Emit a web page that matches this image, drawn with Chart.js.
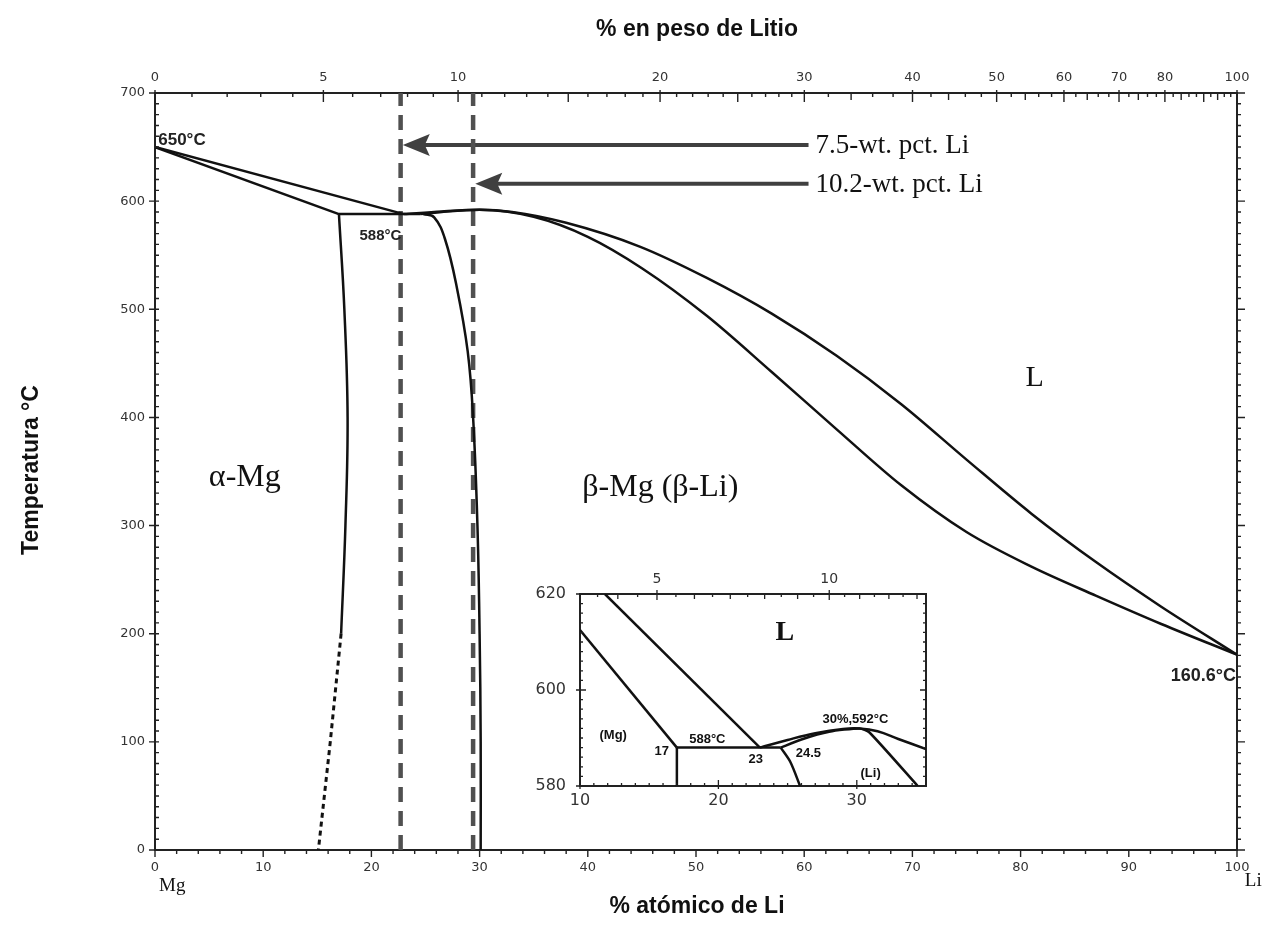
<!DOCTYPE html>
<html lang="es">
<head>
<meta charset="UTF-8">
<title>Diagrama de fases Mg-Li</title>
<script src="https://cdn.jsdelivr.net/npm/chart.js@4"></script>
<style>
    body { margin: 0; background: #fff; }
    #wrap { position: relative; width: 1274px; height: 932px; }
    #main { position: absolute; left: 0; top: 0; }
    #inset { position: absolute; left: 510px; top: 565px; background: #fff; }
</style>
</head>
<body>
<div id="wrap">
    <canvas id="main" width="1274" height="932"></canvas>
    <canvas id="inset" width="440" height="255"></canvas>
</div>
<script>
// composicion en % atomico de Li, temperatura en grados C
var liqMg = [[0, 650], [23, 588]];
var solMg = [[0, 650], [17, 588]];
var eutectica = [[17, 588], [24.5, 588]];
var solvusMg = [[17, 588], [17.5, 500], [17.8, 400], [17.6, 300], [17.2, 200]];
var solvusMgTrazos = [[17.2, 200], [16.2, 100], [15.1, 0]];
var solvusBeta = [[24.8, 588], [25.8, 585], [26.8, 565], [27.9, 520], [28.9, 461], [29.4, 400], [29.8, 300], [30, 200], [30.1, 100], [30.1, 0]];
var liqLi = [[23, 588], [26.5, 590.5], [30, 592], [33, 590], [38, 580], [44.8, 558], [51, 529], [57, 496], [63, 457], [69, 412], [75, 361], [81, 311], [87, 266], [93, 225], [100, 180.6]];
var solLi = [[24.5, 588], [27, 590.5], [30, 592], [35, 585.5], [40, 567], [45, 538], [51, 494], [57, 442], [63, 389], [69, 337], [75, 294], [81, 262], [87, 235], [93, 209], [100, 180.6]];
var aleaciones = [22.7, 29.4];           // lineas discontinuas (7.5 y 10.2 % en peso)
var flechas = [[22.9, 652], [29.6, 616]]; // punta de cada flecha
var colaFlecha = 60.4;
var textoFlechas = ['7.5-wt. pct. Li', '10.2-wt. pct. Li'];

// ejes
var pesoTicks = [0, 5, 10, 20, 30, 40, 50, 60, 70, 80, 100];
var insetPesoTicks = [5, 10];
var insetXTicks = [10, 20, 30];
var insetYTicks = [580, 600, 620];

// detalle (recuadro)
var insLiqMg = [[11.8, 620], [23, 588]];
var insSolMg = [[10, 612.5], [17, 588]];
var insEut = [[17, 588], [24.5, 588]];
var insSolvusMg = [[17, 588], [17, 580]];
var insSolvusBeta = [[24.5, 588], [25.2, 585], [25.9, 580]];
var insLiqLi = [[23, 588], [25, 589.6], [27, 591], [29, 591.9], [30.2, 592], [31.5, 591.4], [33, 589.8], [35, 587.7]];
var insSolLi = [[24.5, 588], [26, 589.7], [28, 591.3], [30.2, 592], [30.9, 591.2], [34.4, 580]];

var black = '#111';
var tickColor = '#333';
var tickFont = { family: 'DejaVu Sans', size: 13 };

function aAtomico(w) {
    var li = w / 6.941, mg = (100 - w) / 24.305;
    return 100 * li / (li + mg);
}

function serie(pts, extra) {
    return Object.assign({
        data: pts.map(function(p) { return { x: p[0], y: p[1] }; }),
        showLine: true, pointRadius: 0, borderColor: black, borderWidth: 2.5,
        tension: 0, fill: false
    }, extra || {});
}

function txt(c, s, x, y, font, align, base, color) {
    c.font = font;
    c.textAlign = align || 'center';
    c.textBaseline = base || 'middle';
    c.fillStyle = color || black;
    c.fillText(s, x, y);
}

// marcas de los ejes: lista de [pixel, largo hacia dentro, largo hacia fuera]
function marcas(c, a, lado, lista) {
    c.beginPath();
    lista.forEach(function(m) {
        var p = m[0], i = m[1], o = m[2];
        if (lado === 'bottom') { c.moveTo(p, a.bottom - i); c.lineTo(p, a.bottom + o); }
        if (lado === 'top') { c.moveTo(p, a.top + i); c.lineTo(p, a.top - o); }
        if (lado === 'left') { c.moveTo(a.left + i, p); c.lineTo(a.left - o, p); }
        if (lado === 'right') { c.moveTo(a.right - i, p); c.lineTo(a.right + o, p); }
    });
    c.stroke();
}

function ejeBase(pos, extra) {
    return Object.assign({
        type: 'linear', position: pos,
        grid: { display: false, drawTicks: false },
        border: { display: true, color: '#222', width: 2 },
        ticks: { autoSkip: false, maxRotation: 0, font: tickFont, color: tickColor }
    }, extra);
}

// ---------------- grafico principal ----------------
var mainDatasets = [
    serie(liqMg), serie(solMg), serie(eutectica),
    serie(solvusMg, { tension: 0.4 }),
    serie(solvusMgTrazos, { borderDash: [5, 4], borderWidth: 3 }),
    serie(solvusBeta, { tension: 0.4 }),
    serie(liqLi, { cubicInterpolationMode: 'monotone' }),
    serie(solLi, { cubicInterpolationMode: 'monotone' })
];
aleaciones.forEach(function(x) {
    mainDatasets.push(serie([[x, 0], [x, 700]], { borderColor: '#505050', borderWidth: 4.5, borderDash: [15, 9] }));
});
flechas.forEach(function(f) {
    mainDatasets.push(serie([[f[0] + 1.5, f[1]], [colaFlecha, f[1]]], { borderColor: '#404040', borderWidth: 4 }));
});

var mainPlugin = {
    id: 'mainExtras',
    afterDraw: function(chart) {
        var c = chart.ctx, a = chart.chartArea, sx = chart.scales.x, sy = chart.scales.y;
        var X = function(v) { return sx.getPixelForValue(v); };
        var Y = function(v) { return sy.getPixelForValue(v); };
        c.save();
        c.strokeStyle = '#222';
        c.lineWidth = 1.4;

        var l = [];
        for (var i = 0; i <= 50; i++) l.push([X(i * 2), 0, i % 5 === 0 ? 7 : 4]);
        marcas(c, a, 'bottom', l);

        l = [];
        for (i = 0; i <= 70; i++) l.push([Y(i * 10), 4, i % 10 === 0 ? 6 : 0]);
        marcas(c, a, 'left', l);

        l = [];
        for (i = 0; i <= 70; i++) l.push([Y(i * 10), 0, i % 10 === 0 ? 8 : 4]);
        marcas(c, a, 'right', l);

        l = [];
        for (i = 1; i < 30; i++) l.push([X(aAtomico(i)), i % 5 === 0 ? 9 : 4, 0]);
        for (i = 30; i < 100; i += 2) l.push([X(aAtomico(i)), i % 10 === 0 ? 9 : (i % 10 === 4 ? 7 : 4), 0]);
        pesoTicks.forEach(function(w) { l.push([X(aAtomico(w)), 9, 3]); });
        marcas(c, a, 'top', l);

        // puntas de flecha
        c.fillStyle = '#404040';
        flechas.forEach(function(f) {
            var px = X(f[0]), py = Y(f[1]);
            c.beginPath();
            c.moveTo(px, py);
            c.lineTo(px + 27, py - 11);
            c.lineTo(px + 22, py);
            c.lineTo(px + 27, py + 11);
            c.closePath();
            c.fill();
        });

        var serif = '"Liberation Serif", "Times New Roman", serif';
        textoFlechas.forEach(function(t, k) {
            txt(c, t, X(colaFlecha) + 7, Y(flechas[k][1]) + 1, '27px ' + serif, 'left', 'middle');
        });
        txt(c, 'L', X(81.3), Y(436), '30px ' + serif);
        txt(c, '\u03b1-Mg', X(8.3), Y(344), '32px ' + serif);
        txt(c, '\u03b2-Mg (\u03b2-Li)', X(46.7), Y(335), '32px ' + serif);

        var sans = '"Liberation Sans", Arial, sans-serif';
        txt(c, '650\u00b0C', X(0.3), Y(652), 'bold 17px ' + sans, 'left', 'alphabetic', '#222');
        txt(c, '588\u00b0C', X(18.9), Y(564), 'bold 15px ' + sans, 'left', 'alphabetic', '#222');
        txt(c, '160.6\u00b0C', X(99.9), Y(156), 'bold 18px ' + sans, 'right', 'alphabetic', '#222');

        // titulos
        var tit = 'bold 23px ' + sans;
        txt(c, '% en peso de Litio', 697, 30, tit);
        txt(c, '% at\u00f3mico de Li', 697, 907, tit);
        c.save();
        c.translate(32, 470);
        c.rotate(-Math.PI / 2);
        txt(c, 'Temperatura \u00b0C', 0, 0, tit);
        c.restore();
        txt(c, 'Mg', X(1.6), 886, '19px ' + serif);
        txt(c, 'Li', X(101.5), 881, '19px ' + serif);
        c.restore();
    }
};

new Chart(document.getElementById('main'), {
    type: 'scatter',
    data: { datasets: mainDatasets },
    options: {
        responsive: false,
        animation: false,
        layout: { padding: 0 },
        plugins: { legend: { display: false }, tooltip: { enabled: false } },
        scales: {
            x: ejeBase('bottom', {
                min: 0, max: 100,
                ticks: { stepSize: 10, autoSkip: false, maxRotation: 0, padding: 10, font: tickFont, color: tickColor },
                afterFit: function(s) { s.height = 82; }
            }),
            x2: ejeBase('top', {
                min: 0, max: 100,
                afterBuildTicks: function(s) { s.ticks = pesoTicks.map(function(w) { return { value: aAtomico(w) }; }); },
                ticks: { autoSkip: false, maxRotation: 0, padding: 8, font: tickFont, color: tickColor,
                    callback: function(v, i) { return String(pesoTicks[i]); } },
                afterFit: function(s) { s.height = 93; }
            }),
            y: ejeBase('left', {
                min: 0, max: 700,
                ticks: { stepSize: 100, autoSkip: false, padding: 10, font: tickFont, color: tickColor },
                afterFit: function(s) { s.width = 155; }
            }),
            y2: ejeBase('right', {
                min: 0, max: 700,
                ticks: { display: false },
                afterFit: function(s) { s.width = 37; }
            })
        }
    },
    plugins: [mainPlugin]
});

// ---------------- recuadro de detalle ----------------
var insetDatasets = [
    serie(insLiqMg), serie(insSolMg), serie(insEut), serie(insSolvusMg),
    serie(insSolvusBeta, { tension: 0.3 }),
    serie(insLiqLi, { tension: 0.4 }),
    serie(insSolLi, { tension: 0.2 })
];

var insetPlugin = {
    id: 'insetExtras',
    afterDraw: function(chart) {
        var c = chart.ctx, a = chart.chartArea, sx = chart.scales.x, sy = chart.scales.y;
        var X = function(v) { return sx.getPixelForValue(v); };
        var Y = function(v) { return sy.getPixelForValue(v); };
        c.save();
        c.strokeStyle = '#222';
        c.lineWidth = 1.3;
        var l = [], i;
        for (i = 10; i <= 35; i++) l.push([X(i), i % 10 === 0 ? 6 : 3, i % 10 === 0 ? 3 : 0]);
        marcas(c, a, 'bottom', l);
        l = [];
        for (i = 580; i <= 620; i += 2) l.push([Y(i), i % 20 === 0 ? 6 : 3, i % 20 === 0 ? 4 : 0]);
        marcas(c, a, 'left', l);
        l = [];
        for (i = 580; i <= 620; i += 2) l.push([Y(i), i % 20 === 0 ? 6 : 3, 0]);
        marcas(c, a, 'right', l);
        l = [];
        for (i = 7; i <= 26; i++) l.push([X(aAtomico(i / 2)), i % 2 === 0 ? 5 : 3, 0]);
        insetPesoTicks.forEach(function(w) { l.push([X(aAtomico(w)), 6, 4]); });
        marcas(c, a, 'top', l);

        var b = 'bold 13px "Liberation Sans", Arial, sans-serif';
        txt(c, 'L', X(24.8), Y(612), 'bold 28px "Liberation Serif", serif');
        txt(c, '(Mg)', X(12.4), Y(590.6), b);
        txt(c, '17', X(15.9), Y(587.1), b);
        txt(c, '588\u00b0C', X(19.2), Y(589.8), b);
        txt(c, '23', X(22.7), Y(585.6), b);
        txt(c, '24.5', X(26.5), Y(586.7), b);
        txt(c, '(Li)', X(31), Y(582.7), b);
        txt(c, '30%,592\u00b0C', X(29.9), Y(593.9), b);
        c.restore();
    }
};

var insetFont = { family: 'DejaVu Sans', size: 16 };
new Chart(document.getElementById('inset'), {
    type: 'scatter',
    data: { datasets: insetDatasets },
    options: {
        responsive: false,
        animation: false,
        layout: { padding: 0 },
        plugins: { legend: { display: false }, tooltip: { enabled: false } },
        scales: {
            x: ejeBase('bottom', {
                min: 10, max: 35,
                afterBuildTicks: function(s) { s.ticks = insetXTicks.map(function(v) { return { value: v }; }); },
                ticks: { autoSkip: false, maxRotation: 0, padding: 5, font: insetFont, color: tickColor },
                afterFit: function(s) { s.height = 34; }
            }),
            x2: ejeBase('top', {
                min: 10, max: 35,
                afterBuildTicks: function(s) { s.ticks = insetPesoTicks.map(function(w) { return { value: aAtomico(w) }; }); },
                ticks: { autoSkip: false, maxRotation: 0, padding: 6, font: { family: 'DejaVu Sans', size: 14 }, color: tickColor,
                    callback: function(v, i) { return String(insetPesoTicks[i]); } },
                afterFit: function(s) { s.height = 29; }
            }),
            y: ejeBase('left', {
                min: 580, max: 620,
                afterBuildTicks: function(s) { s.ticks = insetYTicks.map(function(v) { return { value: v }; }); },
                ticks: { autoSkip: false, padding: 14, font: insetFont, color: tickColor },
                afterFit: function(s) { s.width = 70; }
            }),
            y2: ejeBase('right', {
                min: 580, max: 620,
                ticks: { display: false },
                afterFit: function(s) { s.width = 24; }
            })
        }
    },
    plugins: [insetPlugin]
});
</script>
</body>
</html>
